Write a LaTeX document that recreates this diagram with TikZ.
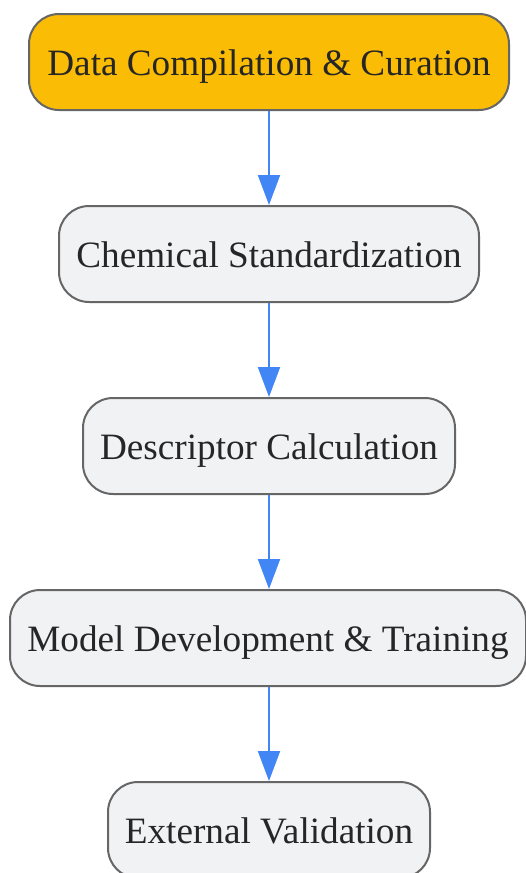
\documentclass[tikz,border=0pt]{standalone}
\usepackage{fontspec}
\setmainfont{Liberation Serif}
\usetikzlibrary{arrows.meta}
\definecolor{stepfill}{HTML}{F1F2F4}
\definecolor{startfill}{HTML}{FBBC05}
\definecolor{stepline}{HTML}{666666}
\definecolor{flowblue}{HTML}{4285F4}
\tikzset{
  stepbox/.style={draw=stepline, line width=2pt, fill=stepfill, rounded corners=30pt,
    minimum height=96pt, inner sep=0pt, text=black!85, text height=26pt, text depth=0pt,
    font=\fontsize{37.2}{44}\selectfont},
  flow/.style={draw=flowblue, line width=2pt, -{Triangle[width=22pt,length=30pt]}}
}
\begin{document}
\begin{tikzpicture}[x=1pt, y=-1pt]
		%%%%% START %%%%%
		\useasboundingbox (0, 0) rectangle (526, 873);
		\clip (0, 0) rectangle (526, 873);
		\fill[white] (0, 0) rectangle (526, 873);
		
		\node[stepbox, fill=startfill, minimum width=480pt] (compile) at (269, 62) {Data Compilation \& Curation};
		\node[stepbox, minimum width=420pt] (standard) at (269, 254) {Chemical Standardization};
		\node[stepbox, minimum width=372pt] (descriptor) at (269, 446) {Descriptor Calculation};
		\node[stepbox, minimum width=516pt] (model) at (268, 638) {Model Development \& Training};
		\node[stepbox, minimum width=322pt] (validate) at (269, 830) {External Validation};
		
		\draw[flow] (compile.south) -- (standard.north);
		\draw[flow] (standard.south) -- (descriptor.north);
		\draw[flow] (descriptor.south) -- (model.north -| descriptor.south);
		\draw[flow] (model.south -| validate.north) -- (validate.north);
		%%%%% END %%%%%
	\end{tikzpicture}
\end{document}
